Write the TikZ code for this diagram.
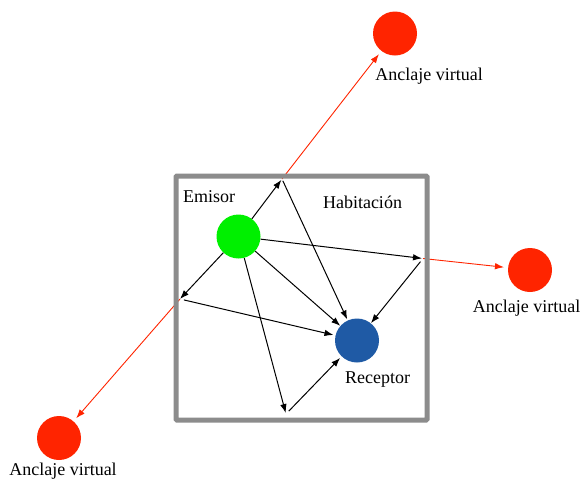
\documentclass[tikz,border=0pt]{standalone}
\usepackage{fontspec}
\setmainfont{Liberation Serif}
\usetikzlibrary{arrows.meta}
\definecolor{emgreen}{RGB}{0,240,0}
\definecolor{recblue}{RGB}{31,90,165}
\definecolor{ancred}{RGB}{255,36,0}
\definecolor{wallgray}{RGB}{140,140,140}
\begin{document}
\begin{tikzpicture}[x=1pt,y=-1pt,
  dot/.style={circle,inner sep=0pt,minimum size=44pt,draw=none},
  lbl/.style={anchor=base,inner sep=0pt,font=\fontsize{18}{20}\selectfont},
  arr/.style={draw=black,line width=1pt,-{Latex[length=9pt,width=6.5pt]}},
  redarr/.style={draw=ancred,line width=0.9pt,-{Latex[length=9pt,width=6.5pt]},shorten >=4pt},
  wall/.style={draw=wallgray,line width=5pt,rounded corners=1pt}]
\useasboundingbox (0,0) rectangle (581,480);
% nodes
\node[dot,fill=emgreen] (em) at (238.5,236.5) {};
\node[dot,fill=recblue] (rec) at (357,340.5) {};
\node[dot,fill=ancred] (vt) at (395,33.5) {};
\node[dot,fill=ancred] (vr) at (530,270) {};
\node[dot,fill=ancred] (vb) at (59,438) {};
% reflection points
\coordinate (T) at (282,179);
\coordinate (L) at (180,299);
\coordinate (R) at (423,258.5);
\coordinate (B) at (286,414);
% red lines to virtual anchors
\draw[redarr] (T) -- (vt);
\draw[redarr] (R) -- (vr);
\draw[redarr] (L) -- (vb);
% room
\draw[wall] (176,176) rectangle (427,420);
% emitter rays
\draw[arr,shorten >=1pt] (em) -- (T);
\draw[arr] (em) -- (L);
\draw[arr,shorten >=1pt] (em) -- (R);
\draw[arr,shorten >=1pt] (em) -- (B);
\draw[arr] (em) -- (rec);
% reflected rays
\draw[arr,shorten <=2pt,shorten >=1pt] (T) -- (rec);
\draw[arr,shorten <=4pt,shorten >=2pt] (L) -- (rec);
\draw[arr,shorten <=4pt] (R) -- (rec);
\draw[arr,shorten <=4pt,shorten >=2pt] (B) -- (rec);
% labels
\node[lbl] (lem) at (209,202) {Emisor};
\node[lbl] (lhab) at (362.5,208) {Habitación};
\node[lbl] (lrec) at (377.5,383) {Receptor};
\node[lbl] (lvt) at (429,80) {Anclaje virtual};
\node[lbl] (lvr) at (526.5,312) {Anclaje virtual};
\node[lbl] (lvb) at (63,475) {Anclaje virtual};
\end{tikzpicture}
\end{document}
